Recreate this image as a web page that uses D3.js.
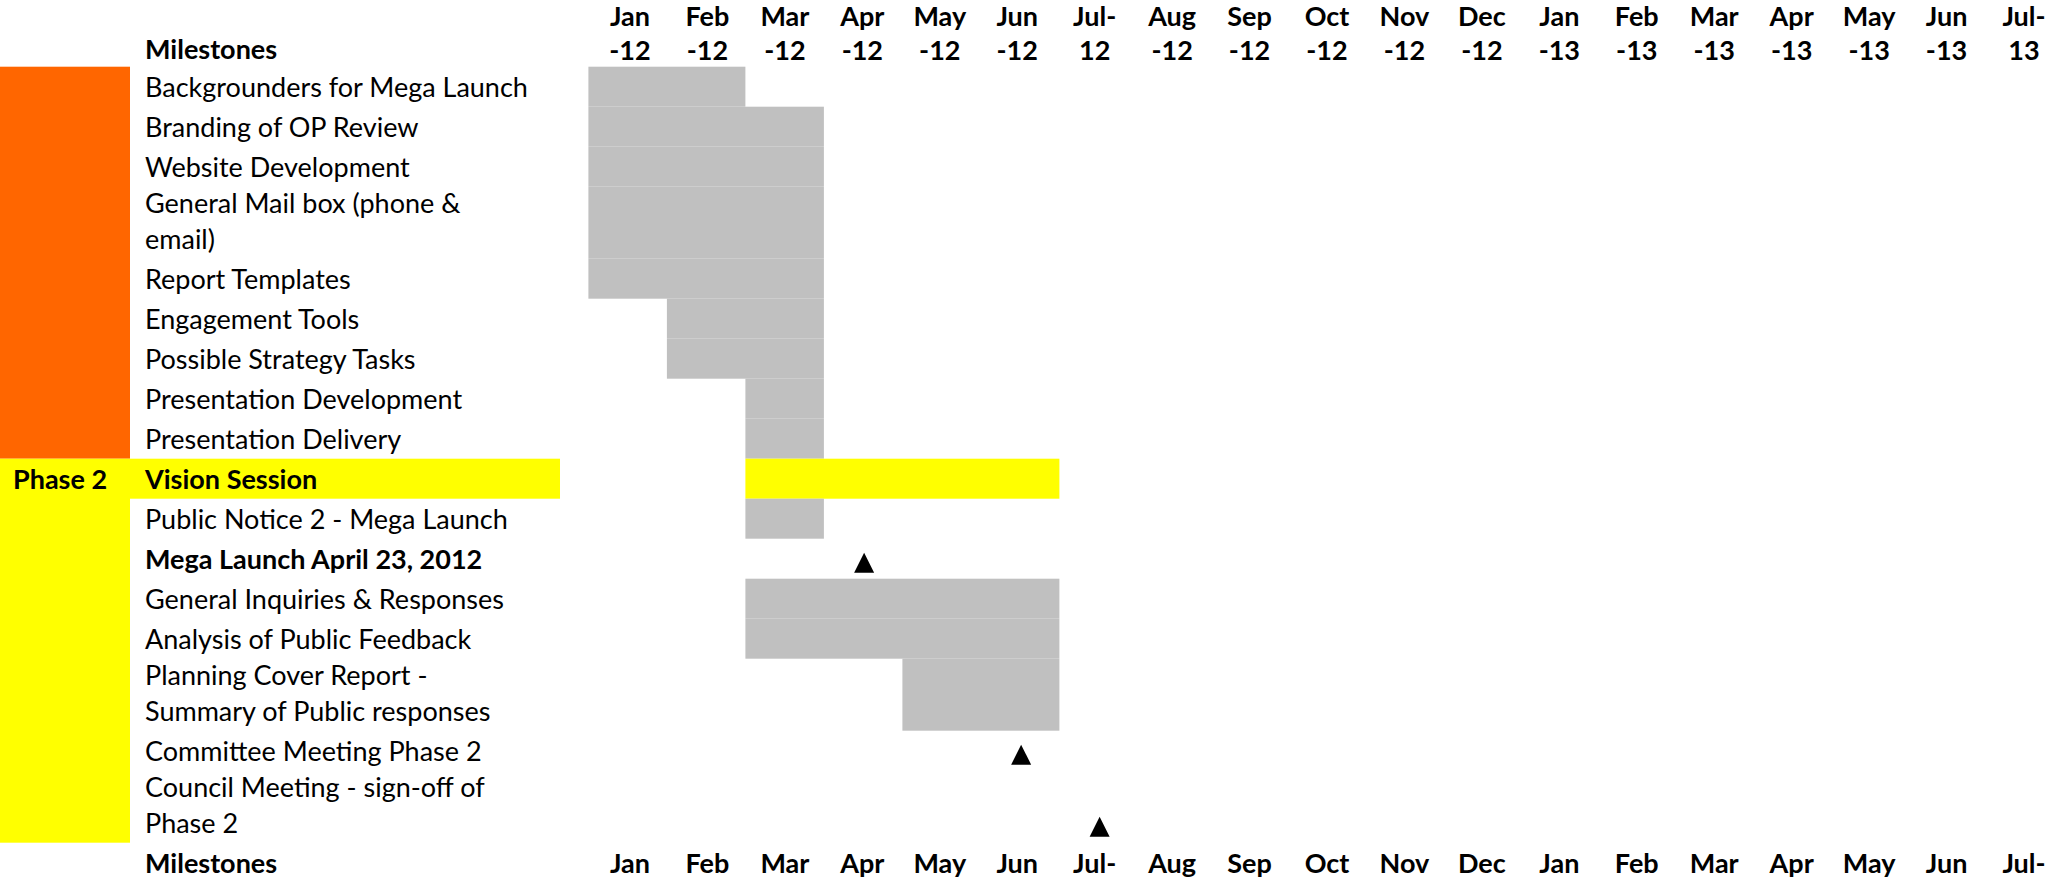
<!DOCTYPE html>
<html>
<script src='https://d3js.org/d3.v7.min.js'></script>
<style>
 body {margin: 0; background: white;}
 text {font-family: Lato, 'Noto Sans', sans-serif; font-size: 27px; fill: black;}
 .bold {font-weight: bold;}
</style>
<body onload='init()'>
<svg width=2051 height=881>
</svg>
<script>

var months = ["Jan-12","Feb-12","Mar-12","Apr-12","May-12","Jun-12","Jul-12","Aug-12","Sep-12","Oct-12",
 "Nov-12","Dec-12","Jan-13","Feb-13","Mar-13","Apr-13","May-13","Jun-13","Jul-13"];
var monthTop = ["Jan","Feb","Mar","Apr","May","Jun","Jul-","Aug","Sep","Oct","Nov","Dec",
 "Jan","Feb","Mar","Apr","May","Jun","Jul-"];
var monthBottom = ["-12","-12","-12","-12","-12","-12","12","-12","-12","-12","-12","-12",
 "-13","-13","-13","-13","-13","-13","13"];

var tasks = [
 ["Backgrounders for Mega Launch"],
 ["Branding of OP Review"],
 ["Website Development"],
 ["General Mail box (phone &", "email)"],
 ["Report Templates"],
 ["Engagement Tools"],
 ["Possible Strategy Tasks"],
 ["Presentation Development"],
 ["Presentation Delivery"],
 ["Vision Session"],
 ["Public Notice 2 - Mega Launch"],
 ["Mega Launch April 23, 2012"],
 ["General Inquiries & Responses"],
 ["Analysis of Public Feedback"],
 ["Planning Cover Report -", "Summary of Public responses"],
 ["Committee Meeting Phase 2"],
 ["Council Meeting - sign-off of", "Phase 2"]
];
var taskStart = ["Jan-12","Jan-12","Jan-12","Jan-12","Jan-12","Feb-12","Feb-12","Mar-12","Mar-12",
 "Mar-12","Mar-12","Apr-12","Mar-12","Mar-12","May-12","Jun-12","Jul-12"];
var taskEnd = ["Feb-12","Mar-12","Mar-12","Mar-12","Mar-12","Mar-12","Mar-12","Mar-12","Mar-12",
 "Jun-12","Mar-12","Apr-12","Jun-12","Jun-12","Jun-12","Jun-12","Jul-12"];
var taskKind = ["bar","bar","bar","bar","bar","bar","bar","bar","bar",
 "session","bar","launch","bar","bar","bar","milestone","milestone"];

var phaseNames = ["", "Phase 2"];
var phaseFirst = [0, 9];
var phaseLast = [8, 16];

function init() {
 var svg = d3.select('svg');
 var top = 66.7, lineH = 36;

 // row layout from number of text lines
 var rows = [];
 var yy = top;
 tasks.forEach(function (t, i) {
  var h = Math.max(40, lineH * t.length);
  rows.push({i: i, lines: t, y0: yy, y1: yy + h, start: taskStart[i], end: taskEnd[i], kind: taskKind[i]});
  yy += h;
 });
 var bottomY = yy;

 var x = d3.scaleBand().domain(months).range([588.4, 588.4 + 78.5 * months.length]);
 var bw = x.bandwidth();
 // header cells sit on a slightly narrower grid than the bars
 var xl = d3.scalePoint().domain(months).range([630, 2024]);
 var phaseColor = d3.scaleOrdinal().domain(phaseNames).range(["#FF6600", "#FFFF00"]);

 // phase column
 svg.append('g').selectAll('rect')
  .data(phaseNames)
  .enter().append('rect')
   .attr('x', 0)
   .attr('width', 130)
   .attr('y', function (d, i) { return rows[phaseFirst[i]].y0; })
   .attr('height', function (d, i) { return rows[phaseLast[i]].y1 - rows[phaseFirst[i]].y0; })
   .style('fill', function (d) { return phaseColor(d); });

 svg.append('g').selectAll('text')
  .data(phaseNames)
  .enter().append('text')
   .attr('class', 'bold')
   .attr('x', 13)
   .attr('y', function (d, i) { return rows[phaseFirst[i]].y1 - 10; })
   .text(function (d) { return d; });

 // highlighted session row label cell
 svg.append('g').selectAll('rect')
  .data(rows.filter(function (r) { return r.kind == 'session'; }))
  .enter().append('rect')
   .attr('x', 130).attr('width', 430)
   .attr('y', function (r) { return r.y0; })
   .attr('height', function (r) { return r.y1 - r.y0; })
   .style('fill', '#FFFF00');

 // bars
 svg.append('g').selectAll('rect')
  .data(rows.filter(function (r) { return r.kind == 'bar' || r.kind == 'session'; }))
  .enter().append('rect')
   .attr('x', function (r) { return x(r.start); })
   .attr('width', function (r) { return x(r.end) + bw - x(r.start); })
   .attr('y', function (r) { return r.y0; })
   .attr('height', function (r) { return r.y1 - r.y0; })
   .style('fill', function (r) { return r.kind == 'session' ? '#FFFF00' : '#C0C0C0'; });

 // milestone triangles
 svg.append('g').selectAll('path')
  .data(rows.filter(function (r) { return r.kind == 'milestone' || r.kind == 'launch'; }))
  .enter().append('path')
   .attr('d', function (r) {
     var cx = x(r.start) + bw / 2 + 1, yb = r.y1 - 6;
     return 'M' + (cx - 10) + ',' + yb + 'L' + (cx + 10) + ',' + yb + 'L' + cx + ',' + (yb - 20) + 'Z';
   })
   .style('fill', 'black');

 // task labels
 var lab = svg.append('g').selectAll('text')
  .data(rows)
  .enter().append('text')
   .attr('class', function (r) { return (r.kind == 'session' || r.kind == 'launch') ? 'bold' : null; })
   .attr('x', 145);
 lab.selectAll('tspan')
  .data(function (r) {
    return r.lines.map(function (l, k) { return {t: l, y: r.y1 - 10 - lineH * (r.lines.length - 1 - k)}; });
  })
  .enter().append('tspan')
   .attr('x', 145)
   .attr('y', function (d) { return d.y; })
   .text(function (d) { return d.t; });

 // header and footer
 svg.append('text').attr('class', 'bold').attr('x', 145).attr('y', top - 8).text('Milestones');
 svg.append('text').attr('class', 'bold').attr('x', 145).attr('y', bottomY + 30).text('Milestones');

 var head = svg.append('g').selectAll('g')
  .data(months)
  .enter().append('g')
   .attr('transform', function (d) { return 'translate(' + xl(d) + ',0)'; });
 head.append('text').attr('class', 'bold').attr('text-anchor', 'middle')
  .attr('y', top - 41).text(function (d, i) { return monthTop[i]; });
 head.append('text').attr('class', 'bold').attr('text-anchor', 'middle')
  .attr('y', top - 7).text(function (d, i) { return monthBottom[i]; });
 head.append('text').attr('class', 'bold').attr('text-anchor', 'middle')
  .attr('y', bottomY + 30).text(function (d, i) { return monthTop[i]; });
}

</script>
</body>
</html>
